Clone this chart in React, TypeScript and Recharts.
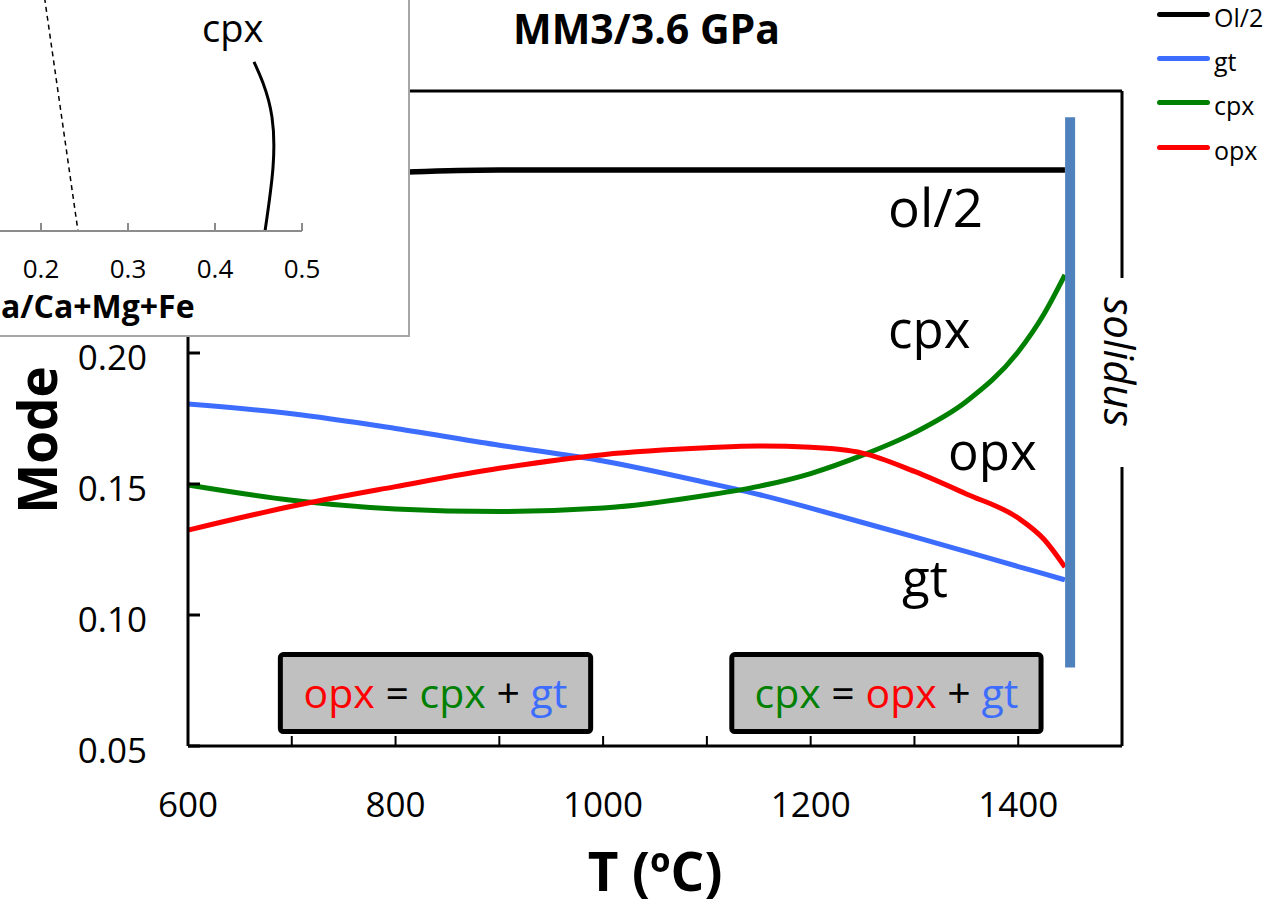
import React from 'react';
import { LineChart, Line, XAxis, YAxis, ReferenceArea, ReferenceLine } from 'recharts';

// modes, MM3 at 3.6 GPa
const temps = [600, 700, 800, 900, 1000, 1100, 1150, 1200, 1250, 1300, 1350, 1400, 1425, 1445];
const ol2Mode = [0.267, 0.268, 0.269, 0.2698, 0.2698, 0.2698, 0.2698, 0.2698, 0.2698, 0.2698, 0.2698, 0.2698, 0.2698, 0.2698];
const gtMode = [0.1805, 0.1768, 0.1712, 0.1648, 0.1588, 0.1505, 0.146, 0.1408, 0.1353, 0.1298, 0.1242, 0.1185, 0.1157, 0.1134];
const cpxMode = [0.1496, 0.1438, 0.1405, 0.1395, 0.1408, 0.1457, 0.1491, 0.154, 0.161, 0.1696, 0.1815, 0.2005, 0.215, 0.2298];
const opxMode = [0.1324, 0.1415, 0.149, 0.156, 0.1612, 0.1638, 0.1645, 0.164, 0.1618, 0.1548, 0.1462, 0.137, 0.1288, 0.1183];

const xTicks = [600, 700, 800, 900, 1000, 1100, 1200, 1300, 1400, 1500];
const xLabels = [600, 800, 1000, 1200, 1400];
const yTicks = [0.05, 0.1, 0.15, 0.2, 0.25, 0.3];

const solidusT = [1450, 1450];
const solidusMode = [0.08, 0.29];

// reaction boxes (T range, mode range, text pieces)
const reactionT = [[689, 988], [1124, 1422]];
const reactionMode = [0.0555, 0.0849];
const reactionText = [
  ['opx', '=', 'cpx', '+', 'gt'],
  ['cpx', '=', 'opx', '+', 'gt'],
];

// inset: Ca/(Ca+Mg+Fe) of cpx, plus the dashed reference line
const insetCpxCa = [0.4448, 0.4552, 0.4655, 0.4667, 0.4575];
const insetCpxY = [0.511, 0.447, 0.344, 0.193, 0];
const insetDashCa = [0.188, 0.2425];
const insetDashY = [1, 0];
const insetTicks = [0.2, 0.3, 0.4, 0.5];

const COLORS: Record<string, string> = {
  ol: '#000000',
  gt: '#3d6dff',
  cpx: '#008000',
  opx: '#ff0000',
};

const series = [
  { key: 'ol', name: 'Ol/2', width: 5.5 },
  { key: 'gt', name: 'gt', width: 5 },
  { key: 'cpx', name: 'cpx', width: 5 },
  { key: 'opx', name: 'opx', width: 5 },
];

const FONT = '"Open Sans", sans-serif';

const data = temps.map((T, i) => ({
  T,
  ol: ol2Mode[i],
  gt: gtMode[i],
  cpx: cpxMode[i],
  opx: opxMode[i],
}));

const solidusData = solidusT.map((T, i) => ({ T, v: solidusMode[i] }));
const insetCpx = insetCpxCa.map((x, i) => ({ x, y: insetCpxY[i] }));
const insetDash = insetDashCa.map((x, i) => ({ x, y: insetDashY[i] }));

const XTick = (props: any) => {
  const { x, y, payload } = props;
  if (!xLabels.includes(payload.value)) return <g />;
  return (
    <text x={x} y={y} dy={81} textAnchor="middle" fontSize={35} fontFamily={FONT} fill="#000">
      {payload.value}
    </text>
  );
};

const YTick = (props: any) => {
  const { x, y, payload } = props;
  return (
    <text x={x} y={y} dy={17} textAnchor="end" fontSize={35} fontFamily={FONT} fill="#000">
      {Number(payload.value).toFixed(2)}
    </text>
  );
};

const InsetTick = (props: any) => {
  const { x, y, payload } = props;
  return (
    <text x={x} y={y} dy={55} textAnchor="middle" fontSize={26} fontFamily={FONT} fill="#000">
      {Number(payload.value).toFixed(1)}
    </text>
  );
};

const ReactionLabel = ({ viewBox, parts }: any) => {
  const { x, y, width, height } = viewBox;
  return (
    <text x={x + width / 2} y={y + height / 2} dy={15} textAnchor="middle" fontSize={41} fontFamily={FONT}>
      {parts.map((p: string, i: number) => (
        <tspan key={i} fill={COLORS[p] || '#000'}>
          {(i > 0 ? ' ' : '') + p}
        </tspan>
      ))}
    </text>
  );
};

export default function App() {
  return (
    <div style={{ position: 'absolute', left: 0, top: 0, width: 1285, height: 906, overflow: 'hidden', background: '#fff', fontFamily: FONT }}>
      <div style={{ position: 'absolute', left: 0, top: 0 }}>
        <LineChart width={1285} height={906} data={data} margin={{ top: 91, right: 163, bottom: 80, left: 68 }}>
          <XAxis
            dataKey="T"
            type="number"
            domain={[600, 1500]}
            ticks={xTicks}
            interval={0}
            height={80}
            tickSize={-10}
            tickMargin={0}
            axisLine={{ stroke: '#000', strokeWidth: 3 }}
            tickLine={{ stroke: '#000', strokeWidth: 2 }}
            tick={<XTick />}
          />
          <YAxis
            type="number"
            domain={[0.05, 0.3]}
            ticks={yTicks}
            interval={0}
            width={120}
            tickSize={-12}
            tickMargin={53}
            axisLine={{ stroke: '#000', strokeWidth: 3 }}
            tickLine={{ stroke: '#000', strokeWidth: 3 }}
            tick={<YTick />}
          />
          <ReferenceLine y={0.3} stroke="#000" strokeWidth={3} />
          <ReferenceLine x={1500} stroke="#000" strokeWidth={3} />
          {reactionT.map((t, i) => (
            <ReferenceArea
              key={i}
              x1={t[0]}
              x2={t[1]}
              y1={reactionMode[0]}
              y2={reactionMode[1]}
              fill="#c0c0c0"
              fillOpacity={1}
              stroke="#000"
              strokeWidth={5}
              radius={3}
              label={{ content: (p: any) => <ReactionLabel viewBox={p.viewBox} parts={reactionText[i]} /> }}
            />
          ))}
          {series.map((s) => (
            <Line
              key={s.key}
              dataKey={s.key}
              name={s.name}
              type="monotone"
              stroke={COLORS[s.key]}
              strokeWidth={s.width}
              dot={false}
              activeDot={false}
              isAnimationActive={false}
            />
          ))}
          <Line
            data={solidusData}
            dataKey="v"
            type="linear"
            stroke="#4f81bd"
            strokeWidth={10}
            dot={false}
            activeDot={false}
            legendType="none"
            isAnimationActive={false}
          />
        </LineChart>
      </div>

      {/* titles and in-plot labels */}
      <svg width={1285} height={906} style={{ position: 'absolute', left: 0, top: 0, pointerEvents: 'none' }} fontFamily={FONT}>
        <text x={513} y={44} fontSize={41} fontWeight="bold">MM3/3.6 GPa</text>
        <text transform="translate(57,440) rotate(-90)" textAnchor="middle" fontSize={53} fontWeight="bold">Mode</text>
        <text x={655} y={891} textAnchor="middle" fontSize={53} fontWeight="bold">T (ºC)</text>
        <text x={888} y={227} fontSize={53}>ol/2</text>
        <text x={888} y={348} fontSize={51}>cpx</text>
        <text x={948} y={470} fontSize={51}>opx</text>
        <text x={902} y={597} fontSize={51}>gt</text>
        <rect x={1110} y={278} width={26} height={189} fill="#fff" />
        <text transform="translate(1104,362) rotate(90)" textAnchor="middle" fontSize={42} fontStyle="italic">solidus</text>
      </svg>

      {/* legend */}
      <div style={{ position: 'absolute', left: 1157, top: -8 }}>
        {series.map((s) => (
          <div key={s.key} style={{ display: 'flex', alignItems: 'center', height: 44.3 }}>
            <span style={{ display: 'inline-block', width: 53, height: 5, borderRadius: 3, background: COLORS[s.key] }} />
            <span style={{ marginLeft: 4, fontSize: 25, lineHeight: 1, position: 'relative', top: 3 }}>{s.name}</span>
          </div>
        ))}
      </div>

      {/* inset (cropped at the top-left, as in the source figure) */}
      <div
        style={{
          position: 'absolute',
          left: 0,
          top: 0,
          width: 410,
          height: 337,
          boxSizing: 'border-box',
          background: '#fff',
          borderRight: '2px solid #a6a6a6',
          borderBottom: '2px solid #a6a6a6',
          overflow: 'hidden',
        }}
      >
        <div style={{ position: 'absolute', left: -133, top: -100 }}>
          <LineChart width={465} height={401} margin={{ top: 0, right: 30, bottom: 0, left: 0 }}>
            <XAxis
              dataKey="x"
              type="number"
              domain={[0, 0.5]}
              ticks={insetTicks}
              interval={0}
              height={70}
              tickSize={-8}
              tickMargin={0}
              axisLine={{ stroke: '#8c8c8c', strokeWidth: 2 }}
              tickLine={{ stroke: '#8c8c8c', strokeWidth: 2 }}
              tick={<InsetTick />}
            />
            <YAxis
              type="number"
              domain={[0, 1]}
              orientation="right"
              width={0}
              tick={false}
              tickLine={false}
              axisLine={{ stroke: '#000', strokeWidth: 2 }}
            />
            <Line
              data={insetDash}
              dataKey="y"
              type="linear"
              stroke="#000"
              strokeWidth={1.5}
              strokeDasharray="5 4"
              dot={false}
              activeDot={false}
              isAnimationActive={false}
            />
            <Line
              data={insetCpx}
              dataKey="y"
              type="natural"
              stroke="#000"
              strokeWidth={3}
              dot={false}
              activeDot={false}
              isAnimationActive={false}
            />
          </LineChart>
        </div>
        <svg width={410} height={337} style={{ position: 'absolute', left: 0, top: 0, pointerEvents: 'none' }} fontFamily={FONT}>
          <text x={202} y={42} fontSize={38}>cpx</text>
          <text x={1} y={318} fontSize={32} fontWeight="bold">a/Ca+Mg+Fe</text>
        </svg>
      </div>
    </div>
  );
}
